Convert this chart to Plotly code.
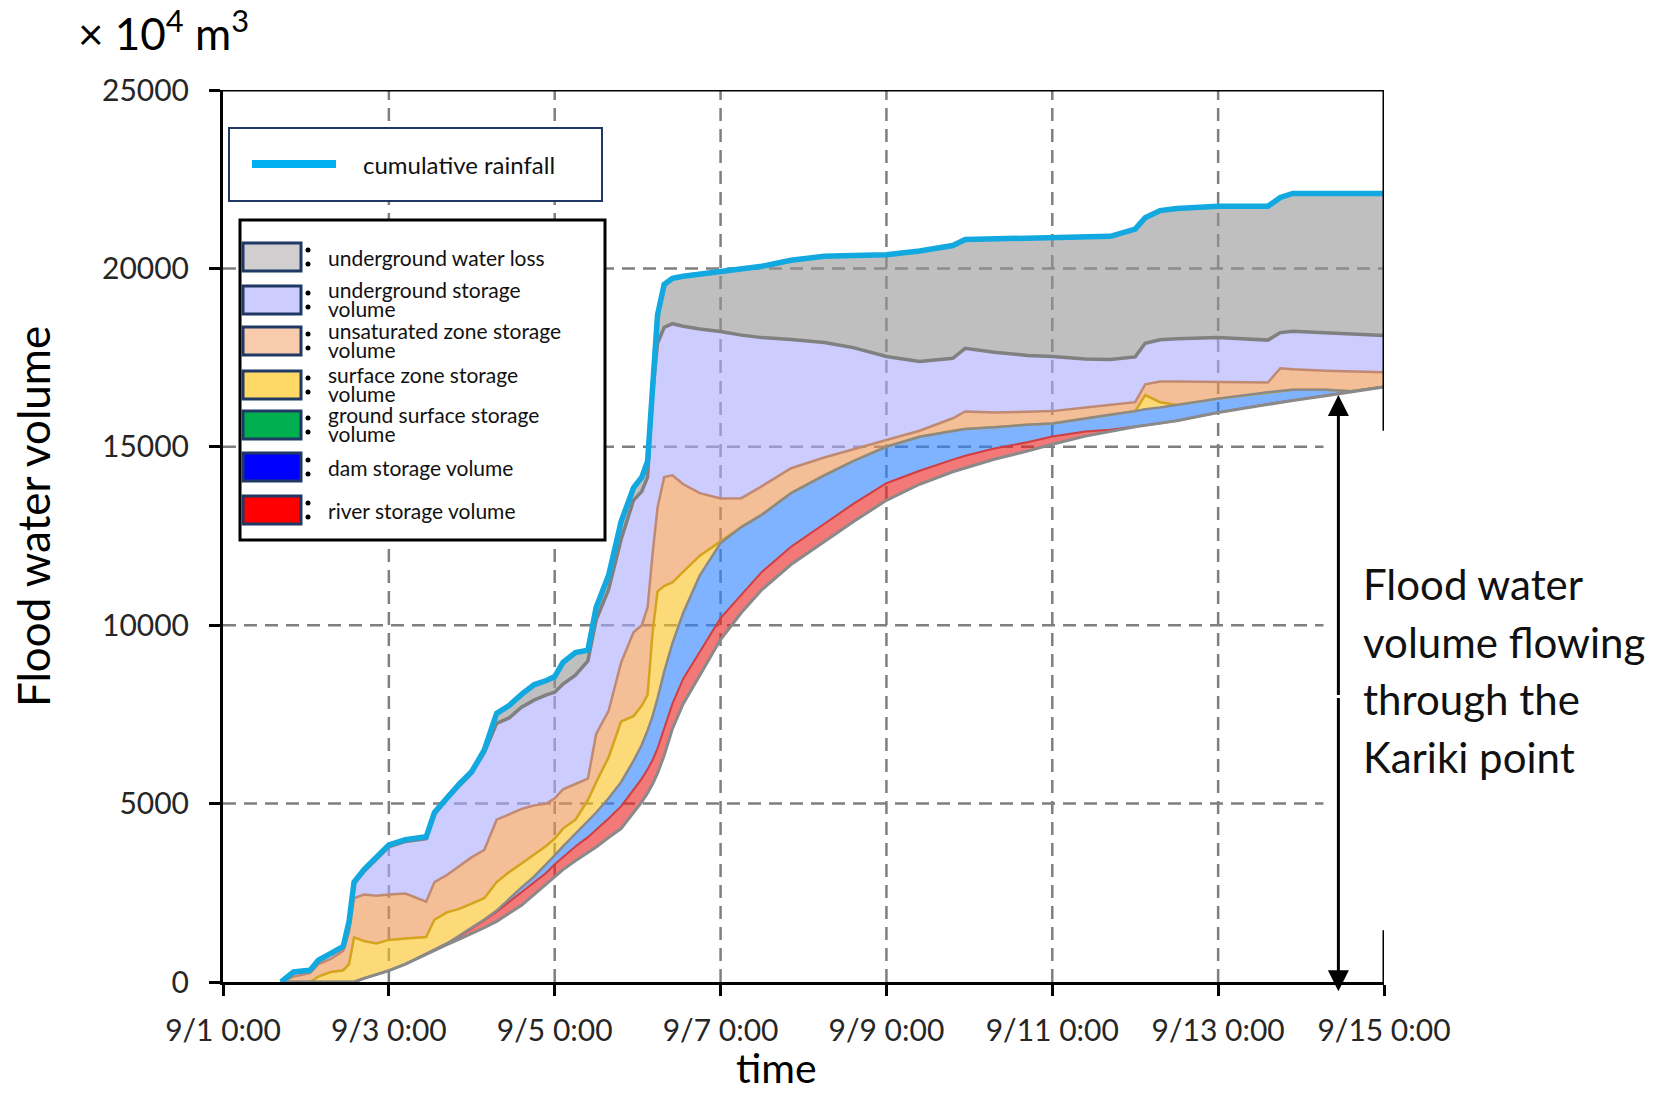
import pandas as pd
import plotly.graph_objects as go

# ---------------------------------------------------------------------------
# Data: cumulative volumes (x10^4 m3) stacked from the bottom up.
# Each list is the upper boundary of one layer; the lowest curve is the
# flood water volume that has flowed through the Kariki point.
# ---------------------------------------------------------------------------
START = pd.Timestamp("2015-09-01 00:00")

elapsed_days = [
    0.7, 0.85, 1.05, 1.15, 1.3, 1.45, 1.52, 1.58, 1.7, 1.85,
    2.0, 2.2, 2.45, 2.55, 2.7, 2.85, 3.0, 3.15, 3.3, 3.45,
    3.6, 3.75, 3.9, 4.0, 4.1, 4.25, 4.4, 4.5, 4.65, 4.8,
    4.95, 5.05, 5.12, 5.18, 5.24, 5.32, 5.42, 5.55, 5.75, 6.0,
    6.25, 6.5, 6.85, 7.25, 7.6, 8.0, 8.4, 8.8, 8.95, 9.3,
    9.7, 10.0, 10.4, 10.7, 11.0, 11.12, 11.3, 11.5, 12.0, 12.6,
    12.75, 12.9, 13.3, 13.6, 14.0,
]

kariki_outflow = [
    0, 0, 0, 0, 0, 0, 0, 0, 100, 200,
    320, 500, 780, 900, 1050, 1200, 1350, 1520, 1700, 1920,
    2150, 2450, 2750, 2950, 3150, 3400, 3620, 3780, 4050, 4300,
    4750, 5050, 5300, 5550, 5850, 6350, 7100, 7800, 8600, 9600,
    10350, 11000, 11700, 12350, 12900, 13500, 13950, 14300, 14400, 14650,
    14880, 15070, 15300, 15440, 15560, 15600, 15660, 15730, 15960, 16200,
    16250, 16300, 16430, 16530, 16680,
]

river_storage_top = [
    0, 0, 0, 0, 0, 0, 0, 0, 100, 200,
    320, 500, 780, 900, 1080, 1280, 1500, 1730, 1970, 2240,
    2500, 2780, 3060, 3300, 3500, 3800, 4060, 4260, 4580, 4920,
    5380, 5700, 5960, 6220, 6550, 7120, 7800, 8500, 9250, 10200,
    10850, 11500, 12200, 12850, 13400, 13980, 14330, 14640, 14750, 14950,
    15130, 15290, 15430, 15480, 15560, 15600, 15660, 15730, 15960, 16200,
    16250, 16300, 16430, 16530, 16680,
]

dam_storage_top = [
    0, 0, 0, 0, 0, 0, 0, 0, 100, 200,
    320, 500, 780, 900, 1080, 1300, 1520, 1750, 2000, 2330,
    2650, 2950, 3300, 3550, 3800, 4150, 4500, 4750, 5150, 5600,
    6200, 6650, 7050, 7450, 7950, 8700, 9500, 10350, 11400, 12300,
    12750, 13100, 13700, 14200, 14600, 15000, 15280, 15450, 15500, 15550,
    15620, 15650, 15800, 15900, 16000, 16050, 16100, 16170, 16350, 16530,
    16570, 16600, 16600, 16560, 16680,
]

# ground surface storage is too small to show: its top equals the dam top
ground_surface_top = dam_storage_top

surface_zone_top = [
    0, 0, 0, 150, 280, 330, 500, 1250, 1150, 1080,
    1180, 1220, 1260, 1750, 1950, 2050, 2200, 2350, 2800, 3080,
    3320, 3580, 3820, 4020, 4300, 4550, 5100, 5600, 6300, 7300,
    7450, 7750, 8050, 9800, 10950, 11100, 11200, 11500, 11950, 12350,
    12750, 13100, 13700, 14200, 14600, 15000, 15280, 15450, 15500, 15550,
    15620, 15650, 15800, 15900, 16000, 16450, 16250, 16170, 16350, 16530,
    16570, 16600, 16600, 16560, 16680,
]

unsaturated_zone_top = [
    0, 150, 250, 500, 650, 880, 1400, 2350, 2450, 2420,
    2450, 2480, 2250, 2800, 3000, 3250, 3500, 3700, 4550, 4700,
    4850, 4950, 5000, 5150, 5400, 5550, 5700, 6950, 7600, 8950,
    9800, 10000, 10500, 12000, 13300, 14150, 14200, 13950, 13700, 13550,
    13560, 13900, 14400, 14700, 14920, 15190, 15450, 15800, 15990, 15960,
    15980, 16000, 16100, 16180, 16250, 16750, 16830, 16830, 16820, 16800,
    17200, 17170, 17130, 17110, 17090,
]

underground_storage_top = [
    0, 260, 310, 590, 780, 980, 1680, 2750, 3100, 3450,
    3790, 3940, 4020, 4700, 5130, 5500, 5850, 6430, 7250, 7400,
    7700, 7900, 8050, 8120, 8350, 8600, 9000, 10150, 11000, 12400,
    13500, 13750, 14150, 16500, 17900, 18350, 18450, 18380, 18300, 18230,
    18130, 18060, 18010, 17920, 17780, 17530, 17390, 17480, 17760, 17650,
    17560, 17530, 17460, 17450, 17520, 17900, 18000, 18030, 18060, 17990,
    18200, 18240, 18200, 18160, 18120,
]

cumulative_rainfall = [
    0, 280, 330, 610, 800, 1000, 1700, 2800, 3150, 3500,
    3840, 3990, 4070, 4750, 5180, 5550, 5900, 6500, 7530, 7750,
    8060, 8330, 8450, 8560, 8960, 9230, 9300, 10500, 11400, 12900,
    13850, 14150, 14600, 16700, 18700, 19550, 19720, 19780, 19840, 19900,
    19990, 20060, 20230, 20340, 20360, 20380, 20490, 20640, 20810, 20830,
    20850, 20870, 20880, 20900, 21100, 21420, 21620, 21680, 21740, 21740,
    21990, 22100, 22100, 22100, 22100,
]

tick_days = [0, 2, 4, 6, 8, 10, 12, 14]
tick_labels = ["9/1 0:00", "9/3 0:00", "9/5 0:00", "9/7 0:00",
               "9/9 0:00", "9/11 0:00", "9/13 0:00", "9/15 0:00"]
y_ticks = [0, 5000, 10000, 15000, 20000, 25000]

legend_items = [
    ("underground water loss", "#d0cece"),
    ("underground storage\nvolume", "#ccccff"),
    ("unsaturated zone storage\nvolume", "#f8cbad"),
    ("surface zone storage\nvolume", "#ffd966"),
    ("ground surface storage\nvolume", "#00b050"),
    ("dam storage volume", "#0000ff"),
    ("river storage volume", "#ff0000"),
]

# ---------------------------------------------------------------------------
def when(d):
    return START + pd.Timedelta(days=d)


times = [when(d) for d in elapsed_days]
T_END = when(14)

# plot area in pixels (figure is 1666 x 1094)
L, R, T, B = 223, 1384, 90, 982
W, H = R - L, B - T


def fx(x):
    return (x - L) / W


def fy(y):
    return (B - y) / H


TEXT_FONT = "Lato, Carlito, 'Open Sans', sans-serif"
GRID = "#7f7f7f"
DASH = "13px,8px"

fig = go.Figure()

# ---- stacked filled layers ------------------------------------------------
fig.add_trace(go.Scatter(x=times, y=kariki_outflow, mode="lines",
                         line=dict(width=0), hoverinfo="skip", showlegend=False))
layers = [
    (river_storage_top, "rgba(235,30,30,0.6)"),
    (dam_storage_top, "rgba(42,127,255,0.6)"),
    (ground_surface_top, "rgba(0,176,80,0.6)"),
    (surface_zone_top, "rgba(252,193,30,0.6)"),
    (unsaturated_zone_top, "rgba(237,147,80,0.6)"),
    (underground_storage_top, "rgba(170,170,255,0.6)"),
    (cumulative_rainfall, "rgba(148,148,148,0.6)"),
]
for top, color in layers:
    fig.add_trace(go.Scatter(x=times, y=top, mode="lines", fill="tonexty",
                             fillcolor=color, line=dict(width=0),
                             hoverinfo="skip", showlegend=False))

# ---- boundary lines -------------------------------------------------------
boundary_lines = [
    (surface_zone_top, "#d4a41c", 2.5),
    (unsaturated_zone_top, "#c08a72", 2.5),
    (river_storage_top, "#cf3f3f", 2),
    (dam_storage_top, "#8a8a8a", 2.5),
    (kariki_outflow, "#8a8a8a", 3),
    (underground_storage_top, "#808080", 3.5),
    (cumulative_rainfall, "#808080", 4),
]
for vals, color, width in boundary_lines:
    fig.add_trace(go.Scatter(x=times, y=vals, mode="lines",
                             line=dict(color=color, width=width),
                             hoverinfo="skip", showlegend=False))
fig.add_trace(go.Scatter(x=times, y=cumulative_rainfall, mode="lines",
                         line=dict(color="#12a8e0", width=5.5),
                         name="cumulative rainfall", showlegend=False))

shapes = []

# ---- dashed grid ------------------------------------------------------------
for d in tick_days[1:-1]:
    shapes.append(dict(type="line", xref="x", yref="y", layer="below",
                       x0=when(d), x1=when(d), y0=0, y1=25000,
                       line=dict(color=GRID, width=2.5, dash=DASH)))
for v in y_ticks[1:-1]:
    x_end = T_END if v == 20000 else when(13.27)
    shapes.append(dict(type="line", xref="x", yref="y", layer="below",
                       x0=when(0), x1=x_end, y0=v, y1=v,
                       line=dict(color=GRID, width=2.5, dash=DASH)))

# ---- frame: top border and the broken right border --------------------------
frame = dict(color="black", width=3)
shapes.append(dict(type="line", xref="x", yref="y", x0=when(0), x1=T_END,
                   y0=25000, y1=25000, line=frame))
shapes.append(dict(type="line", xref="x", yref="y", x0=T_END, x1=T_END,
                   y0=15450, y1=25000, line=frame))
shapes.append(dict(type="line", xref="x", yref="y", x0=T_END, x1=T_END,
                   y0=0, y1=1450, line=frame))

annotations = []

# ---- legend: cumulative rainfall ---------------------------------------------
shapes.append(dict(type="rect", xref="paper", yref="paper",
                   x0=fx(229), x1=fx(602), y0=fy(201), y1=fy(128),
                   fillcolor="white", line=dict(color="#1f3864", width=2)))
shapes.append(dict(type="line", xref="paper", yref="paper",
                   x0=fx(252), x1=fx(336), y0=fy(164), y1=fy(164),
                   line=dict(color="#00b0f0", width=8)))
annotations.append(dict(xref="paper", yref="paper", x=fx(361), y=fy(164),
                        xanchor="left", yanchor="middle", showarrow=False,
                        text="cumulative rainfall",
                        font=dict(family=TEXT_FONT, size=24, color="#111111")))

# ---- legend: storage components ----------------------------------------------
shapes.append(dict(type="rect", xref="paper", yref="paper",
                   x0=fx(240), x1=fx(605), y0=fy(540), y1=fy(220),
                   fillcolor="white", line=dict(color="black", width=3)))
swatch_centers = [257, 300, 341, 385, 425, 467, 510]
for (label, color), cy in zip(legend_items, swatch_centers):
    shapes.append(dict(type="rect", xref="paper", yref="paper",
                       x0=fx(243), x1=fx(301), y0=fy(cy + 14), y1=fy(cy - 14),
                       fillcolor=color, line=dict(color="#1f3864", width=3)))
    for dy in (-7, 7):
        shapes.append(dict(type="circle", xref="paper", yref="paper",
                           x0=fx(305.5), x1=fx(310.5),
                           y0=fy(cy + dy + 2.5), y1=fy(cy + dy - 2.5),
                           fillcolor="black", line=dict(width=0)))
    lines = label.split("\n")
    offsets = [0] if len(lines) == 1 else [-11, 8]
    for text, off in zip(lines, offsets):
        annotations.append(dict(xref="paper", yref="paper", x=fx(326),
                                y=fy(cy + off), xanchor="left", yanchor="middle",
                                showarrow=False, text=text,
                                font=dict(family=TEXT_FONT, size=21,
                                          color="#111111")))

# ---- double arrow and label for flow through the Kariki point ----------------
arrow_x = when(13.45)
for tip in (16450, -260):
    annotations.append(dict(x=arrow_x, y=tip, ax=arrow_x, ay=8000,
                            xref="x", yref="y", axref="x", ayref="y",
                            text="", showarrow=True, arrowhead=2,
                            arrowsize=1.4, arrowwidth=3, arrowcolor="black",
                            standoff=0))
for text, ypix in zip(["Flood water", "volume flowing", "through the",
                       "Kariki point"], [584, 642, 699, 757]):
    annotations.append(dict(xref="paper", yref="paper", x=fx(1361), y=fy(ypix),
                            xanchor="left", yanchor="middle", showarrow=False,
                            text=text,
                            font=dict(family=TEXT_FONT, size=42,
                                      color="#111111")))

# ---- axis titles and unit ----------------------------------------------------
annotations.append(dict(xref="paper", yref="paper", x=fx(33), y=fy(517),
                        xanchor="center", yanchor="middle", textangle=-90,
                        showarrow=False, text="Flood water volume",
                        font=dict(family=TEXT_FONT, size=44, color="black")))
annotations.append(dict(xref="paper", yref="paper", x=fx(776), y=fy(1067),
                        xanchor="center", yanchor="middle", showarrow=False,
                        text="time",
                        font=dict(family=TEXT_FONT, size=41, color="black")))
annotations.append(dict(xref="paper", yref="paper", x=fx(76), y=fy(30),
                        xanchor="left", yanchor="middle", showarrow=False,
                        text="× 10<sup>4</sup> m<sup>3</sup>",
                        font=dict(family=TEXT_FONT, size=44, color="black")))

fig.update_layout(
    width=1666, height=1094,
    margin=dict(l=L, r=1666 - R, t=T, b=1094 - B, pad=0),
    paper_bgcolor="white", plot_bgcolor="white",
    showlegend=False,
    shapes=shapes, annotations=annotations,
    xaxis=dict(
        type="date", range=[when(0), T_END],
        tickvals=[when(d) for d in tick_days], ticktext=tick_labels,
        showgrid=False, zeroline=False,
        showline=True, linecolor="black", linewidth=3,
        ticks="outside", ticklen=11, tickwidth=3, tickcolor="black",
        ticklabelstandoff=9,
        tickfont=dict(family=TEXT_FONT, size=30, color="#262626"),
    ),
    yaxis=dict(
        range=[0, 25000], tickvals=y_ticks,
        ticktext=[str(v) for v in y_ticks],
        showgrid=False, zeroline=False,
        showline=True, linecolor="black", linewidth=3,
        ticks="outside", ticklen=11, tickwidth=3, tickcolor="black",
        ticklabelstandoff=14,
        tickfont=dict(family=TEXT_FONT, size=30, color="#262626"),
    ),
)

fig.write_html("out.html")
